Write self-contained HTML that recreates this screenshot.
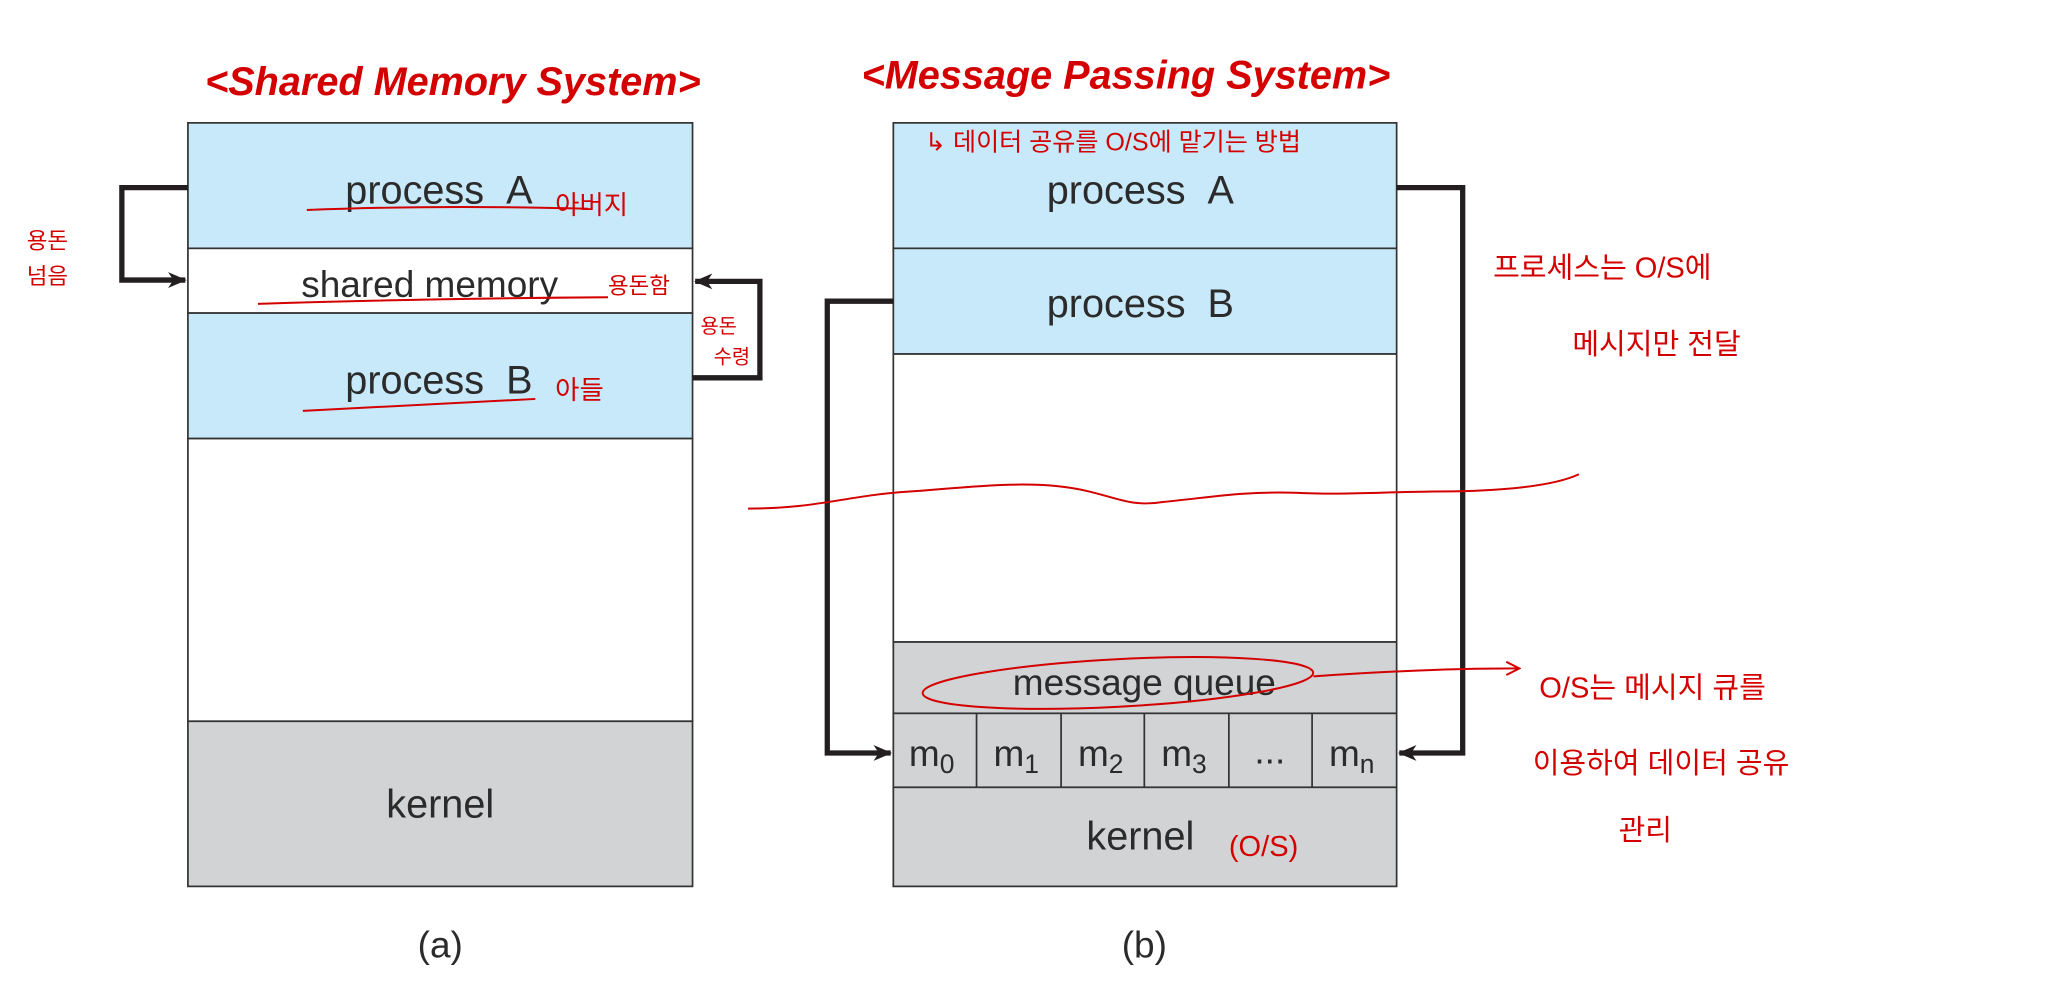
<!DOCTYPE html>
<html><head><meta charset="utf-8"><style>
html,body{margin:0;padding:0;background:#fff;width:2072px;height:1000px;overflow:hidden}
svg{display:block}
.t{font-family:"Liberation Sans",sans-serif;fill:#2b2b2b;text-anchor:middle}
.r{font-family:"Liberation Sans","Noto Sans CJK KR",sans-serif;fill:#d40000}
</style></head><body>
<svg width="2072" height="1000" viewBox="0 0 1568 757" xmlns="http://www.w3.org/2000/svg">
<defs><marker id="ah" markerWidth="14" markerHeight="12" refX="13" refY="6" orient="auto" markerUnits="userSpaceOnUse"><path d="M0,0 L14,6 L0,12 L4,6z" fill="#231f20"/></marker>
<marker id="rh" markerWidth="12" markerHeight="12" refX="11" refY="6" orient="auto" markerUnits="userSpaceOnUse"><path d="M1,1 L11,6 L1,11" fill="none" stroke="#d40000" stroke-width="1.5"/></marker></defs>
<g stroke="#333" stroke-width="1.3">
<rect x="142" y="93" width="382" height="95" fill="#c7e9f9"/>
<rect x="142" y="188" width="382" height="49" fill="#fff"/>
<rect x="142" y="237" width="382" height="95" fill="#c7e9f9"/>
<rect x="142" y="332" width="382" height="214" fill="#fff"/>
<rect x="142" y="546" width="382" height="125" fill="#d1d3d4"/>
</g>
<text class="t" x="332" y="154" font-size="30">process&#160;&#160;A</text>
<text class="t" x="325" y="225" font-size="28">shared memory</text>
<text class="t" x="332" y="298" font-size="30">process&#160;&#160;B</text>
<text class="t" x="333" y="619" font-size="30">kernel</text>
<text class="t" x="333" y="725" font-size="28">(a)</text>
<g fill="none" stroke="#231f20" stroke-width="4">
<path d="M142,142 H92 V212 H140" marker-end="url(#ah)"/>
<path d="M524,286 H575 V213 H526" marker-end="url(#ah)"/>
</g>
<g stroke="#333" stroke-width="1.3">
<rect x="676" y="93" width="381" height="95" fill="#c7e9f9"/>
<rect x="676" y="188" width="381" height="80" fill="#c7e9f9"/>
<rect x="676" y="268" width="381" height="218" fill="#fff"/>
<rect x="676" y="486" width="381" height="54" fill="#d1d3d4"/>
<rect x="676" y="540" width="381" height="56" fill="#d1d3d4"/>
<rect x="676" y="596" width="381" height="75" fill="#d1d3d4"/>
<path d="M739,540V596M803,540V596M866,540V596M930,540V596M993,540V596"/>
</g>
<text class="t" x="863" y="154" font-size="30">process&#160;&#160;A</text>
<text class="t" x="863" y="240" font-size="30">process&#160;&#160;B</text>
<text class="t" x="866" y="526" font-size="28">message queue</text>
<g class="t" font-size="28">
<text x="705" y="580">m<tspan font-size="20" dy="5">0</tspan></text>
<text x="769" y="580">m<tspan font-size="20" dy="5">1</tspan></text>
<text x="833" y="580">m<tspan font-size="20" dy="5">2</tspan></text>
<text x="896" y="580">m<tspan font-size="20" dy="5">3</tspan></text>
<text x="961" y="578">...</text>
<text x="1023" y="580">m<tspan font-size="20" dy="5">n</tspan></text>
</g>
<text class="t" x="863" y="643" font-size="30">kernel</text>
<text class="t" x="866" y="725" font-size="28">(b)</text>
<g fill="none" stroke="#231f20" stroke-width="4">
<path d="M676,228 H626 V570 H674" marker-end="url(#ah)"/>
<path d="M1057,142 H1107 V570 H1059" marker-end="url(#ah)"/>
</g>
<g fill="none" stroke="#d40000" stroke-width="1.5">
<path d="M232,159 Q330,155 445,158"/>
<path d="M195,230 Q320,226 460,225"/>
<path d="M229,311 Q320,306 405,302"/>
<path d="M566,385 C620,385 640,375 690,372 C740,368 770,365 800,368 C840,372 850,385 880,380 C920,376 940,372 980,373 C1020,375 1050,372 1100,372 C1150,371 1180,366 1195,359"/>
<ellipse cx="846" cy="517" rx="148" ry="18" transform="rotate(-3 846 517)"/>
<path d="M994,512 Q1080,506 1150,506" marker-end="url(#rh)"/>
</g>
<g class="r">
<text x="155" y="72" font-size="30" font-weight="bold" font-style="italic">&lt;Shared Memory System&gt;</text>
<text x="652" y="67" font-size="30" font-weight="bold" font-style="italic">&lt;Message Passing System&gt;</text>
<text x="700" y="114" font-size="19">↳ 데이터 공유를 O/S에 맡기는 방법</text>
<text x="420" y="162" font-size="20">아버지</text>
<text x="20" y="188" font-size="17">용돈</text>
<text x="20" y="215" font-size="17">넘음</text>
<text x="460" y="222" font-size="17">용돈함</text>
<text x="530" y="252" font-size="15">용돈</text>
<text x="540" y="275" font-size="15">수령</text>
<text x="420" y="302" font-size="20">아들</text>
<text x="1130" y="210" font-size="22">프로세스는 O/S에</text>
<text x="1190" y="268" font-size="22">메시지만 전달</text>
<text x="1165" y="528" font-size="22">O/S는 메시지 큐를</text>
<text x="1160" y="585" font-size="22">이용하여 데이터 공유</text>
<text x="1225" y="636" font-size="22">관리</text>
<text x="930" y="648" font-size="22">(O/S)</text>
</g>
</svg>
</body></html>
